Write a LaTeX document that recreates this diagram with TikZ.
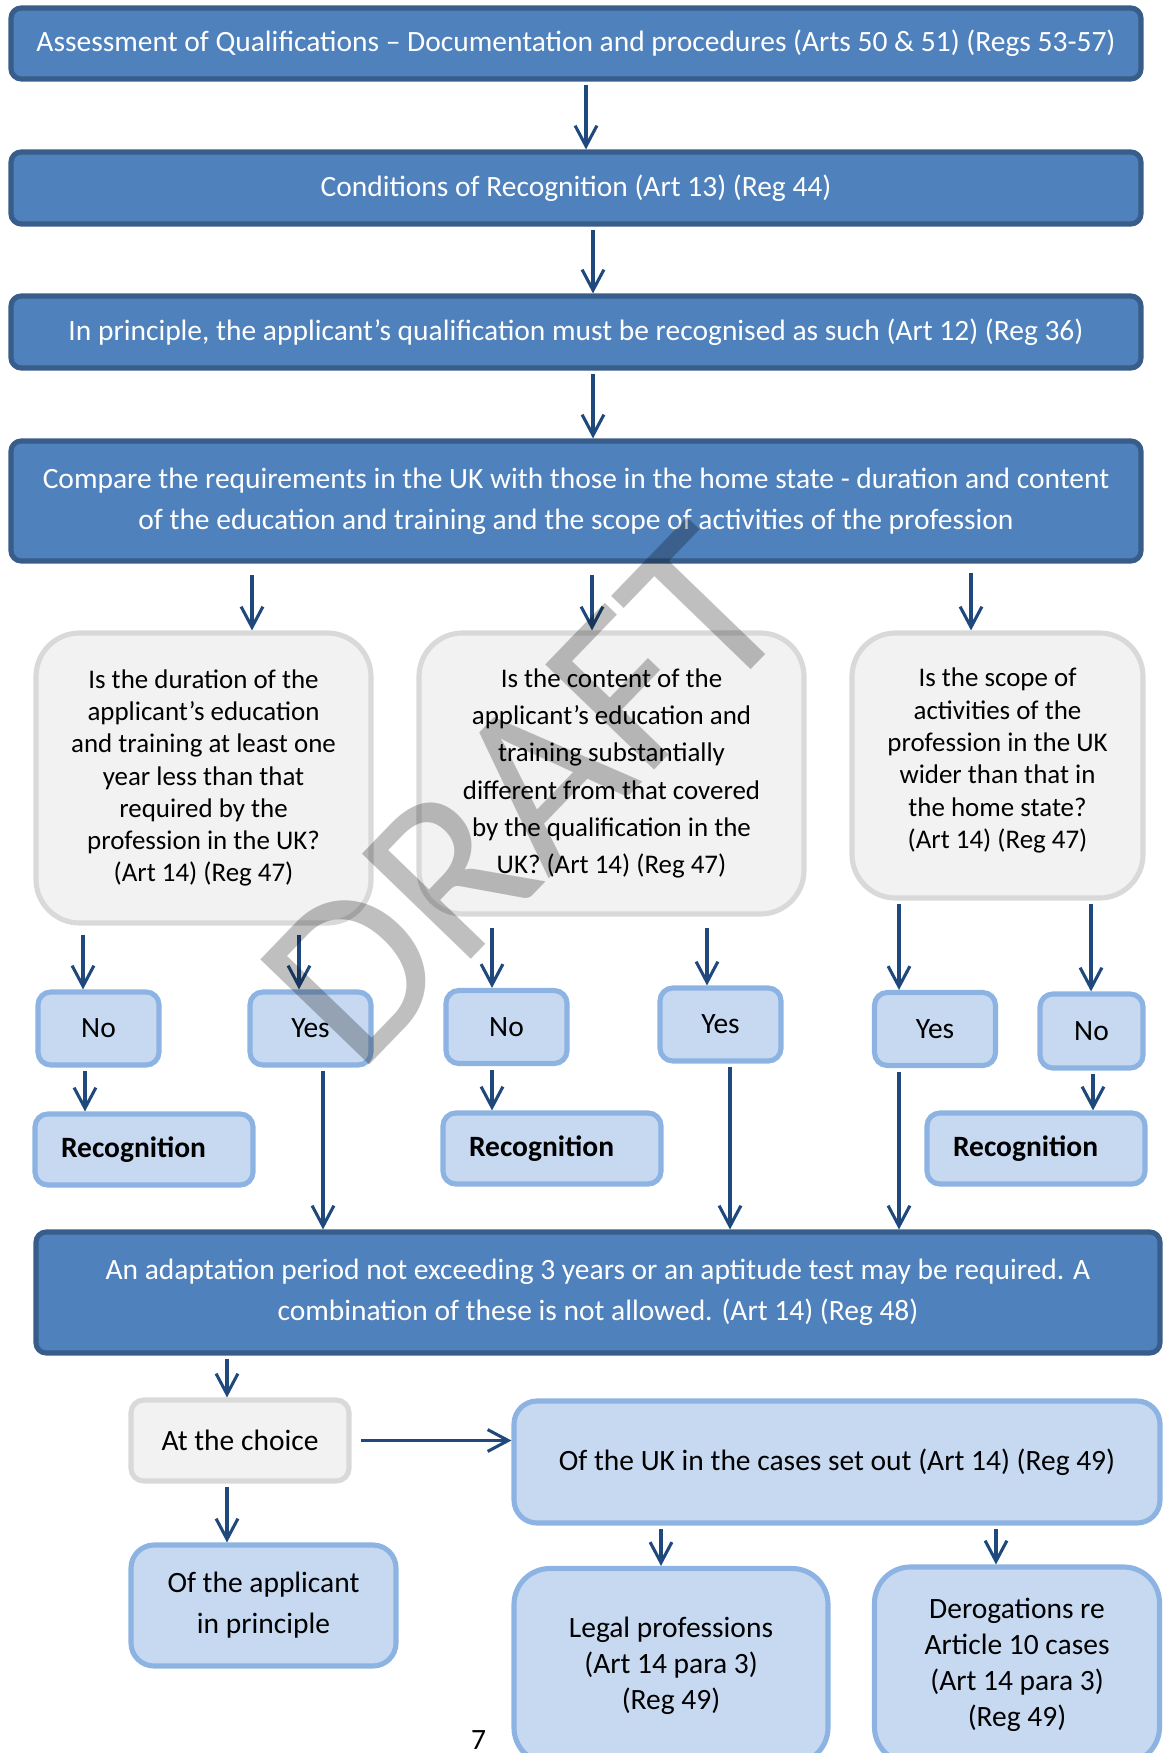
\documentclass[tikz,border=0pt]{standalone}
\usepackage{fontspec}
\setmainfont{Carlito}
\usetikzlibrary{arrows.meta}
\definecolor{darkfill}{HTML}{4F81BD}
\definecolor{darkline}{HTML}{385D8A}
\definecolor{lightfill}{HTML}{C6D9F1}
\definecolor{lightline}{HTML}{8DB3E2}
\definecolor{greyfill}{HTML}{F2F2F2}
\definecolor{greyline}{HTML}{D9D9D9}
\definecolor{arrowblue}{HTML}{1F497D}
\newcommand{\Rec}{\textbf{Recognition}}

\begin{document}
\begin{tikzpicture}[x=0.39pt, y=-0.39pt,
  dark/.style={draw=darkline, fill=darkfill, line width=2pt, rounded corners=4pt,
    text=white, align=center, font=\fontsize{11.5}{16}\selectfont},
  light/.style={draw=lightline, fill=lightfill, line width=2pt, rounded corners=5pt,
    align=center, font=\fontsize{11.5}{14}\selectfont},
  grey/.style={draw=greyline, fill=greyfill, line width=2pt, rounded corners=17pt,
    align=center, font=\fontsize{10.5}{12.6}\selectfont},
  arr/.style={draw=arrowblue, line width=1.2pt, shorten <=1.5pt,
    -{Straight Barb[length=8pt,width=8.5pt]}},
  recbox/.style={light, text width=166*\PX, align=left, inner xsep=0pt}]

  \newcommand\PX{0.39pt}
  \useasboundingbox (0,0) rectangle (1163,1753);

  % top chain
  \node[dark, minimum width=1130*\PX, minimum height=71*\PX] (assess) at (576,43.5)
    {Assessment of Qualifications – Documentation and procedures (Arts 50 \& 51) (Regs 53-57)};
  \node[dark, minimum width=1130*\PX, minimum height=72*\PX] (cond) at (576,188)
    {Conditions of Recognition (Art 13) (Reg 44)};
  \node[dark, minimum width=1130*\PX, minimum height=72*\PX] (princ) at (576,332)
    {In principle, the applicant’s qualification must be recognised as such (Art 12) (Reg 36)};
  \node[dark, minimum width=1130*\PX, minimum height=120*\PX] (compare) at (576,501)
    {Compare the requirements in the UK with those in the home state - duration and content\\
     of the education and training and the scope of activities of the profession};

  \draw[arr] (assess.south -| 586,0) -- (cond.north -| 586,0);
  \draw[arr] (cond.south -| 593,0) -- (princ.north -| 593,0);
  \draw[arr] (princ.south -| 593,0) -- (compare.north -| 593,0);

  % questions
  \node[grey, minimum width=335*\PX, minimum height=290*\PX] (qdur) at (203.5,778)
    {Is the duration of the\\applicant’s education\\and training at least one\\year less than that\\
     required by the\\profession in the UK?\\(Art 14) (Reg 47)};
  \node[grey, minimum width=385*\PX, minimum height=281*\PX, font=\fontsize{10.5}{14.5}\selectfont] (qcont) at (611.5,773.5)
    {Is the content of the\\applicant’s education and\\training substantially\\different from that covered\\
     by the qualification in the\\UK? (Art 14) (Reg 47)};
  \node[grey, minimum width=291*\PX, minimum height=265*\PX] (qscope) at (997.5,765.5)
    {Is the scope of\\activities of the\\profession in the UK\\wider than that in\\the home state?\\(Art 14) (Reg 47)\\[-7pt]};

  \draw[arr] ([yshift=-3pt]compare.south -| 252,0) -- (qdur.north -| 252,0);
  \draw[arr] ([yshift=-3pt]compare.south -| 592,0) -- (qcont.north -| 592,0);
  \draw[arr] ([yshift=-2pt]compare.south -| 971,0) -- (qscope.north -| 971,0);

  % answers
  \node[light, minimum width=121*\PX, minimum height=73*\PX] (no1) at (98.5,1028.5) {No};
  \node[light, minimum width=121*\PX, minimum height=73*\PX] (yes1) at (310.5,1028.5) {Yes};
  \node[light, minimum width=121*\PX, minimum height=73*\PX] (no2) at (506.5,1027) {No};
  \node[light, minimum width=121*\PX, minimum height=73*\PX] (yes2) at (720.5,1024.5) {Yes};
  \node[light, minimum width=121*\PX, minimum height=73*\PX] (yes3) at (935,1029) {Yes};
  \node[light, minimum width=103*\PX, minimum height=74*\PX] (no3) at (1091.5,1031) {No};

  \draw[arr] ([yshift=-2pt]qdur.south -| 83,0) -- (no1.north -| 83,0);
  \draw[arr] ([yshift=-2pt]qdur.south -| 299,0) -- (yes1.north -| 299,0);
  \draw[arr] ([yshift=-3pt]qcont.south -| 492,0) -- (no2.north -| 492,0);
  \draw[arr] ([yshift=-3pt]qcont.south -| 707,0) -- (yes2.north -| 707,0);
  \draw[arr] (qscope.south -| 899,0) -- (yes3.north -| 899,0);
  \draw[arr] (qscope.south -| 1091,0) -- (no3.north -| 1091,0);

  % recognition
  \node[recbox, minimum width=218*\PX, minimum height=71*\PX] (rec1) at (144,1149.5) {\Rec};
  \node[recbox, minimum width=218*\PX, minimum height=71*\PX] (rec2) at (552,1148.5) {\Rec};
  \node[recbox, minimum width=218*\PX, minimum height=71*\PX] (rec3) at (1036,1148.5) {\Rec};

  \draw[arr] (no1.south -| 85,0) -- (rec1.north -| 85,0);
  \draw[arr] (no2.south -| 492,0) -- (rec2.north -| 492,0);
  \draw[arr] (no3.south -| 1093,0) -- (rec3.north -| 1093,0);

  % adaptation
  \node[dark, minimum width=1124*\PX, minimum height=121*\PX] (adapt) at (598,1292.5)
    {An adaptation period not exceeding 3 years or an aptitude test may be required. A\\
     combination of these is not allowed. (Art 14) (Reg 48)};

  \draw[arr] (yes1.south -| 323,0) -- (adapt.north -| 323,0);
  \draw[arr] (yes2.south -| 730,0) -- (adapt.north -| 730,0);
  \draw[arr] (yes3.south -| 899,0) -- (adapt.north -| 899,0);

  % choice
  \node[grey, rounded corners=5pt, minimum width=218*\PX, minimum height=81*\PX,
    font=\fontsize{11.5}{14}\selectfont] (choice) at (240,1440.5)
    {At the choice};
  \node[light, rounded corners=9pt, minimum width=646*\PX, minimum height=122*\PX] (uk) at (837,1462)
    {Of the UK in the cases set out (Art 14) (Reg 49)};
  \node[light, rounded corners=9pt, minimum width=265*\PX, minimum height=121*\PX,
    font=\fontsize{11.5}{16}\selectfont] (appl) at (263.5,1605.5)
    {Of the applicant\\in principle};
  \node[light, rounded corners=14pt, minimum width=314*\PX, minimum height=195*\PX] (legal) at (671,1666)
    {Legal professions\\(Art 14 para 3)\\(Reg 49)};
  \node[light, rounded corners=14pt, minimum width=285*\PX, minimum height=196*\PX] (derog) at (1017,1665)
    {Derogations re\\Article 10 cases\\(Art 14 para 3)\\(Reg 49)};

  \draw[arr] (adapt.south -| 227,0) -- (choice.north -| 227,0);
  \draw[arr] ([xshift=2pt]choice.east) -- (choice.east -| uk.west);
  \draw[arr] (choice.south -| 227,0) -- (appl.north -| 227,0);
  \draw[arr] (uk.south -| 661,0) -- (legal.north -| 661,0);
  \draw[arr] (uk.south -| 996,0) -- (derog.north -| 996,0);

  % page number and watermark
  \node[font=\fontsize{11.5}{13}\selectfont] (page) at (478.6,1740) {7};
  \node[rotate=46, text=black, text opacity=0.25, font=\fontsize{92}{92}\selectfont] (draft) at (524,796) {DRAFT};
\end{tikzpicture}
\end{document}
